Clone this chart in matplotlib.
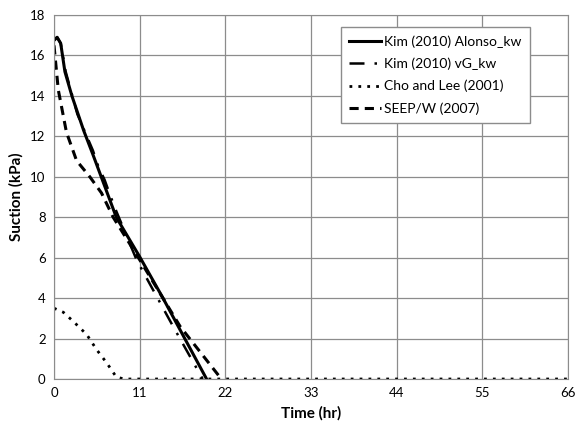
#!/usr/bin/env python3
"""
Suction vs time comparison chart
"""

import matplotlib.pyplot as plt

# Kim (2010) Alonso_kw
alonso_t = [0.0, 0.4, 0.86, 1.4, 2.3, 3.8, 5.0, 8.0, 11.0, 14.0, 19.6]
alonso_s = [16.75, 16.9, 16.6, 15.2, 14.0, 12.3, 11.1, 8.0, 6.05, 4.0, 0.0]

# Kim (2010) vG_kw
vg_t = [0.0, 0.4, 0.86, 1.5, 3.0, 5.0, 5.7, 6.5, 7.2, 8.0, 10.6, 15.3, 19.1]
vg_s = [16.75, 16.9, 16.6, 15.2, 13.1, 11.3, 10.5, 9.85, 9.1, 8.3, 5.9, 2.6, 0.0]

# Cho and Lee (2001)
cho_t = [0.0, 1.2, 2.5, 4.2, 5.5, 6.8, 8.0, 9.0, 66.0]
cho_s = [3.5, 3.3, 2.84, 2.2, 1.44, 0.78, 0.1, 0.0, 0.0]

# SEEP/W (2007)
seep_t = [0.0, 0.55, 1.6, 2.9, 4.6, 6.1, 7.6, 11.0, 16.2, 21.5]
seep_s = [16.5, 14.3, 12.2, 10.8, 10.0, 9.2, 8.0, 5.9, 2.6, 0.0]

x_ticks = [0, 11, 22, 33, 44, 55, 66]
y_ticks = list(range(0, 19, 2))

plt.rcParams["font.family"] = ["Lato", "DejaVu Sans"]

fig = plt.figure(figsize=(5.77, 4.3), dpi=100)
ax = fig.add_axes([0.0936, 0.1186, 0.8904, 0.8464])

ax.plot(alonso_t, alonso_s, color="black", linewidth=2.2, linestyle="-",
        label="Kim (2010) Alonso_kw")
ax.plot(vg_t, vg_s, color="black", linewidth=1.8, linestyle=(0, (6, 4, 1, 4)),
        label="Kim (2010) vG_kw")
ax.plot(cho_t, cho_s, color="black", linewidth=2.0, linestyle=(0, (1, 2.2)),
        label="Cho and Lee (2001)")
ax.plot(seep_t, seep_s, color="black", linewidth=2.2, linestyle=(0, (3, 2)),
        label="SEEP/W (2007)")

ax.set_xlim(0, 66)
ax.set_ylim(0, 18)
ax.set_xticks(x_ticks)
ax.set_yticks(y_ticks)
ax.tick_params(length=0, labelsize=9.5, pad=6)
ax.grid(True, color="#8c8c8c", linewidth=0.9)
ax.set_axisbelow(True)
for spine in ax.spines.values():
    spine.set_color("#8c8c8c")

ax.set_xlabel("Time (hr)", fontsize=11, fontweight="bold", labelpad=5)
ax.set_ylabel("Suction (kPa)", fontsize=11, fontweight="bold", labelpad=5)

leg = ax.legend(loc="upper right", bbox_to_anchor=(0.926, 0.967), fontsize=10,
                fancybox=False, framealpha=1, edgecolor="#8c8c8c",
                handlelength=2.3, borderpad=0.6, labelspacing=0.7,
                handletextpad=0.2, borderaxespad=0)
leg.get_frame().set_linewidth(1.0)

plt.savefig("out.png", dpi=100)
